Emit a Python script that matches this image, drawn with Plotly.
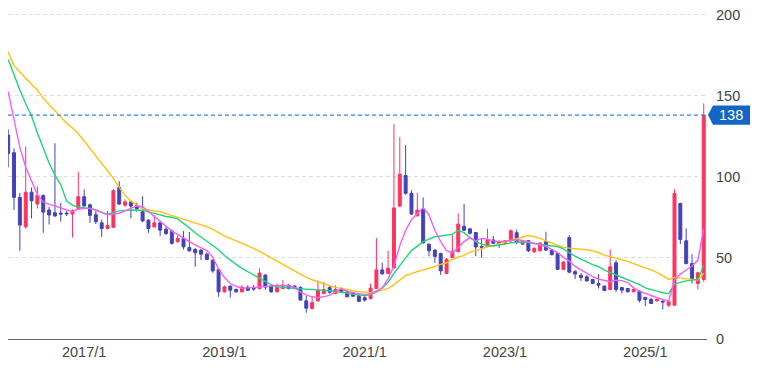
import plotly.graph_objects as go
import pandas as pd

# Monthly categories 2015/12 .. 2025/11
months = [f"{d.year}/{d.month}" for d in pd.date_range("2015-12-01", periods=120, freq="MS")]
tick_labels = ["2017/1", "2019/1", "2021/1", "2023/1", "2025/1"]
y_ticks = [0, 50, 100, 150, 200]

opens = [125.7, 114.8, 87.3, 69.2, 90.5, 83.2, 88.5, 79.5, 77.8, 77.6,
         77.6, 77, 80.5, 87.7, 82.7, 76.6, 71.6, 68.1, 68.8, 93.4,
         82.5, 84.5, 82.5, 78.4, 73.2, 69.1, 71.6, 67.7, 66.5, 59.9,
         62, 56.4, 55.2, 54.8, 52.3, 48.6, 42.8, 29.1, 32.6, 30.5,
         29.1, 31.8, 31.2, 31.1, 39.4, 32.6, 29.1, 31.1, 33.2, 32.6,
         31.8, 23.5, 18.8, 23.5, 28, 31.8, 28.1, 31.1, 29.1, 28,
         26.6, 25.5, 24.9, 31.1, 42.6, 40.4, 43.8, 81.9, 100.8, 89.8,
         75.9, 79.6, 58.4, 54.8, 52.7, 40.4, 50.3, 53.8, 69.5, 67.9,
         65.6, 57, 57, 61, 60, 59, 60.5, 65.5, 58.4, 60.6,
         53.8, 54.4, 59.9, 54.8, 52.7, 42.9, 62.5, 41.5, 39.3, 38.3,
         36.7, 34.2, 32.6, 30.5, 47, 31.7, 31.1, 29.1, 29.5, 25.6,
         24.3, 23.5, 23.2, 20.8, 20.8, 83.5, 60.5, 46.5, 34.2, 36.7]
highs = [129.2, 117.5, 90.1, 118.5, 93.4, 94.2, 89, 81.5, 120.6, 84,
         78.8, 80, 103, 92.2, 83.5, 78.8, 73.5, 79, 92.5, 97.3,
         86, 85.5, 84, 88, 74, 76.3, 72.5, 69, 67.5, 64,
         66.5, 66, 56, 55.5, 53.3, 49, 43.5, 33, 33, 31.2,
         33, 33.2, 33.2, 43.5, 40, 33, 34.2, 36.3, 33.8, 33.2,
         32.5, 26.5, 26, 36, 35.2, 33, 33, 31.8, 30.5, 28.5,
         27.5, 26.5, 34.2, 62.2, 47, 54.5, 132.6, 124.6, 119.5, 91.7,
         90.1, 87.2, 59, 55.3, 53.2, 50, 64, 77.4, 83.3, 68.5,
         66, 62, 68.1, 63.5, 60.8, 61, 67.5, 67.5, 61, 61,
         56.5, 59.8, 66.1, 55.3, 53, 47.8, 64, 42.5, 40.5, 39.5,
         37, 40, 33, 55.2, 48.5, 32, 31.5, 30.8, 30, 26,
         25.5, 24.8, 24.8, 23.2, 92.2, 84, 68.1, 52.3, 41.5, 145.2]
lows = [105.8, 79.5, 54.4, 68, 74.3, 80.5, 65.5, 70.6, 75.3, 72.3,
        75.8, 62.6, 80, 81.5, 71.6, 70.8, 63, 67.5, 68.5, 82.5,
        81.5, 74.3, 78.5, 72, 65.4, 68.7, 63.4, 64, 58.2, 59.5,
        55.2, 54, 44.5, 48.6, 48.6, 40.8, 26, 28.5, 25.6, 28.5,
        28.5, 29.5, 29.7, 30.5, 30.3, 28.5, 28.7, 30.8, 30.5, 30.5,
        23.8, 16.1, 18.3, 23, 27.5, 28, 27.8, 28.5, 25.8, 26,
        22.8, 23, 24.3, 30.8, 39.5, 40, 43.4, 81.5, 89, 76.5,
        75.5, 58.9, 51, 47, 39.5, 40, 50, 53.5, 66.5, 64.5,
        51, 50, 56.5, 58.5, 56, 58.5, 60, 58.5, 58, 53.5,
        53, 54, 54.3, 51.5, 42.5, 42.5, 40.5, 37, 35.8, 35.5,
        33.8, 31.1, 29.5, 30, 29, 28, 28.8, 28.8, 22.5, 20.2,
        21.5, 23, 18.2, 19.8, 20.5, 58.5, 46, 34.2, 30.5, 35.2]
closes = [114.4, 87.3, 70.2, 90.5, 85.2, 88.5, 78.2, 76.4, 75.8, 77,
          77.2, 79, 87.7, 82, 76.2, 72.3, 68.1, 70, 91.4, 83.2,
          84.5, 81.9, 80.4, 72.8, 68.1, 71.6, 67.1, 65, 58.9, 62,
          56.8, 54.3, 53.1, 52.3, 49, 42, 29.1, 32.1, 30.1, 29.1,
          32, 30, 30.8, 40.6, 32, 29.1, 31.8, 33.2, 31.1, 31.1,
          24, 19, 22.4, 30.1, 30.5, 28.8, 30.5, 29.1, 26, 26.4,
          23.2, 24, 31.4, 42.6, 40.2, 43.6, 80.8, 101.6, 89.8, 77,
          79.4, 59.2, 54.4, 50.9, 42, 49.1, 53.8, 70.8, 67, 65.2,
          56.7, 56.5, 61.1, 59, 58.5, 60.5, 66.7, 59.5, 60.5, 54.4,
          55.8, 59.1, 54.8, 52, 42.9, 47.5, 41.2, 40, 37.9, 35.8,
          34.2, 33.2, 29.9, 44.5, 30.5, 30.1, 29.1, 30.5, 23.9, 24.3,
          21.9, 24.5, 22.8, 22.9, 89.7, 61.3, 46.5, 37.3, 40.8, 138]

ma_short = [152.5, 136, 118, 106, 97, 89, 84.5, 83, 82, 80.5,
            79.5, 78.5, 80, 80.5, 80.5, 79.5, 78, 76.5, 77, 77.5,
            79, 80.5, 82, 81.5, 78.5, 75.5, 73, 70, 66.5, 64.5,
            62, 60, 58, 56, 54.5, 50.5, 43, 38, 34.2, 32.5,
            31.3, 31.5, 31.8, 32.3, 32.7, 33, 33, 33, 32.8, 31.8,
            29, 27.2, 26, 25.5, 26, 27, 29, 31, 29.3, 28.5,
            28, 27.5, 27.6, 29.5, 31.5, 37, 45, 57.5, 67, 73.5,
            77.5, 81, 76.5, 67, 60, 54.5, 53, 56.5, 60, 62.5,
            60.5, 62, 61.5, 60.5, 59.9, 60.3, 60.9, 61.2, 60.8, 59.8,
            58.7, 58, 57, 55.2, 53.2, 50.3, 48, 44.7, 42.5, 40.3,
            38.5, 37, 36.3, 35.3, 36.2, 36, 34.8, 31.5, 29.5, 28,
            26.8, 25.5, 24.3, 23.3, 36.5, 40, 42.5, 45, 48.5, 68]
ma_mid = [172.3, 162.5, 153.5, 145, 137.5, 127, 117.5, 108.5, 101, 95,
          85, 82.5, 81.3, 81, 80.5, 79.5, 78, 77, 78, 79,
          79.3, 79.5, 79.5, 79.3, 78.5, 77.5, 76.5, 75.5, 75, 74,
          71.5, 68.5, 65.5, 63, 60.5, 58, 55, 51.5, 48.5, 46,
          43.5, 41.5, 39.5, 37.5, 35, 33.5, 32.2, 31.7, 31.5, 31.2,
          31, 30.7, 30.5, 30.3, 30.1, 29.7, 29.3, 29, 28.3, 27.5,
          27, 26.8, 27.2, 29, 31.5, 35, 40.5, 45.5, 50, 54.5,
          57, 60, 61.5, 63, 63.5, 64, 64.5, 67, 65.5, 62.5,
          60, 58.5, 57.5, 57.3, 57.8, 58.5, 59.3, 59.7, 59.9, 59.5,
          58.8, 58.3, 57.8, 57.3, 57, 55.5, 53, 51, 49.3, 47.5,
          45.8, 44.7, 42.5, 41, 39.5, 38.2, 37, 35.2, 33.5, 31.5,
          30.3, 29.5, 28.5, 28, 34, 35, 35.8, 36.3, 36.7, 45.5]
ma_long = [177, 168.5, 164.5, 160.5, 157, 153.5, 148.5, 144.5, 140.5, 136.5,
           133, 130, 126.5, 122, 117.5, 113, 108.5, 103.5, 99, 93.5,
           88.5, 85, 82.5, 80.2, 79.5, 79, 78.5, 77.3, 76.2, 75.2,
           74, 72.8, 71.8, 70.8, 69.3, 67.5, 65.3, 63.5, 62, 60.5,
           59.3, 57.6, 55.8, 54, 52, 49.5, 47.5, 45.5, 43.8, 42,
           40, 38, 36.5, 35.2, 33.8, 32.8, 31.8, 31, 30.3, 29.7,
           29.2, 29, 28.5, 29.2, 30, 31, 33.5, 36.5, 39, 40.5,
           41.5, 42.5, 43.5, 44.7, 46, 47, 49, 50.5, 51.5, 53.5,
           54.5, 55.5, 57, 57.5, 58.8, 60, 60.8, 61.8, 63, 63.8,
           63, 62, 60.5, 59, 57.5, 56.5, 56, 55.7, 55.3, 55,
           54.3, 53.3, 51.7, 50.8, 49.7, 48.7, 47.8, 46.5, 45.3, 44,
           42.6, 41, 39, 36.7, 38, 37.6, 37.2, 36.7, 36.3, 40.5]

UP = "#ff335f"
DOWN = "#4343b9"
FONT = "Liberation Sans, Arial, sans-serif"

fig = go.Figure()
fig.add_trace(go.Candlestick(
    x=months, open=opens, high=highs, low=lows, close=closes,
    increasing=dict(line=dict(color=UP, width=1), fillcolor=UP),
    decreasing=dict(line=dict(color=DOWN, width=1), fillcolor=DOWN),
    whiskerwidth=0, showlegend=False, hoverinfo="skip"))

for vals, col in [(ma_long, "#ffc20e"), (ma_mid, "#1fd67a"), (ma_short, "#f55ff5")]:
    fig.add_trace(go.Scatter(x=months, y=vals, mode="lines",
                             line=dict(color=col, width=1.4),
                             hoverinfo="skip", showlegend=False))

last = closes[-1]
half = 5.9
fig.add_shape(type="line", xref="paper", x0=0, x1=1, yref="y", y0=last, y1=last,
              line=dict(color="#2f86ec", width=1.2, dash="4px,3px"))
fig.add_shape(type="path", xref="paper", yref="y",
              path=(f"M 1.0014,{last} L 1.0086,{last + half} L 1.0615,{last + half} "
                    f"L 1.0615,{last - half} L 1.0086,{last - half} Z"),
              fillcolor="#1466c6", line=dict(width=0))
fig.add_annotation(xref="paper", x=1.0343, yref="y", y=last, text=f"{last:g}",
                   showarrow=False, xanchor="center", yanchor="middle",
                   font=dict(family=FONT, size=14.5, color="white"))

fig.update_layout(
    width=755, height=365, autosize=False,
    margin=dict(l=0, r=56, t=0, b=34),
    paper_bgcolor="white", plot_bgcolor="white",
    boxgap=0.28,
    font=dict(family=FONT, size=14.5, color="#444"),
    xaxis=dict(type="category", range=[-0.03, 119.56], rangeslider=dict(visible=False),
               tickvals=tick_labels, ticktext=tick_labels, showgrid=False,
               showline=True, linecolor="#666", linewidth=1, ticks="",
               tickfont=dict(family=FONT, size=14.5, color="#444")),
    yaxis=dict(side="right", range=[0, 204], tickvals=y_ticks, showgrid=True,
               gridcolor="#dcdcdc", griddash="4px,3px", zeroline=False, ticks="",
               ticklabelstandoff=8, ticklabeloverflow="allow",
               tickfont=dict(family=FONT, size=14.5, color="#444")),
)

fig.write_html("out.html")
